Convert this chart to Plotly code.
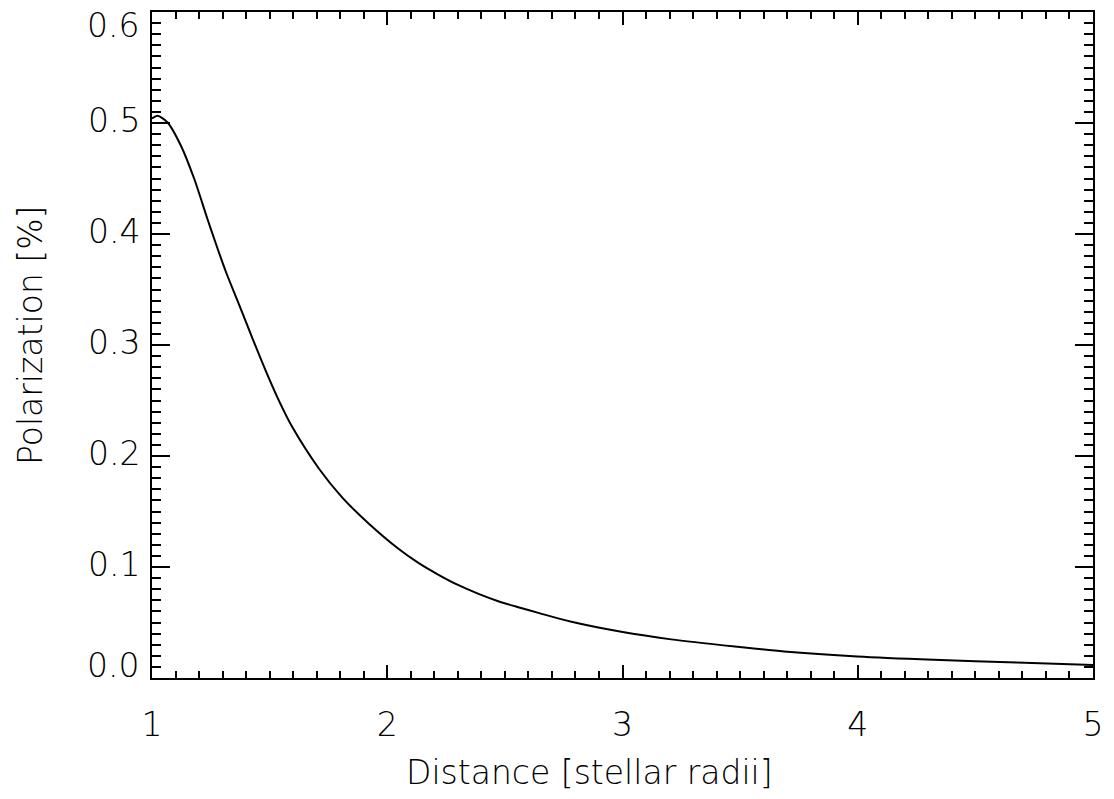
import plotly.graph_objects as go

distance = [1.0, 1.023, 1.066, 1.122, 1.179, 1.235, 1.272, 1.314, 1.371, 1.427, 1.484,
            1.547, 1.597, 1.710, 1.809, 1.922, 2.049, 2.134, 2.218, 2.303, 2.388,
            2.472, 2.557, 2.642, 2.783, 2.995, 3.207, 3.49, 3.687, 3.998, 4.323, 4.676, 5.0]
polarization = [0.504, 0.5065, 0.5005, 0.480, 0.450, 0.414, 0.391, 0.366, 0.336, 0.306, 0.2765,
                0.2465, 0.2258, 0.1885, 0.1625, 0.1390, 0.1162, 0.1035, 0.0930, 0.0836, 0.0758,
                0.0692, 0.0638, 0.0587, 0.0506, 0.0416, 0.0348, 0.0281, 0.0239, 0.0194, 0.0164, 0.0139, 0.0118]

x_ticks = [1, 2, 3, 4, 5]
x_ticklabels = ["1", "2", "3", "4", "5"]
y_ticks = [0.0, 0.1, 0.2, 0.3, 0.4, 0.5, 0.6]
y_ticklabels = ["0.0", "0.1", "0.2", "0.3", "0.4", "0.5", "0.6"]
x_title = "Distance [stellar radii]"
y_title = "Polarization [%]"

FONT = "DejaVu Sans"
FSIZE = 33
tfont = dict(family=FONT, size=FSIZE, color="black", weight=200)

fig = go.Figure()
fig.add_trace(go.Scatter(
    x=distance, y=polarization, mode="lines",
    line=dict(color="black", width=2, shape="spline", smoothing=0.8),
    showlegend=False, hoverinfo="skip"))

axis_common = dict(
    showgrid=False, zeroline=False, showline=True, linecolor="black", linewidth=2,
    mirror="allticks", ticks="inside", tickcolor="black", tickwidth=2,
    tickfont=tfont,
)

# end labels of the y axis are nudged inward (as in the original), drawn as annotations
y_text_axis = [("" if i in (0, len(y_ticks) - 1) else t) for i, t in enumerate(y_ticklabels)]

fig.update_xaxes(
    range=[1, 5], tickmode="array", tickvals=x_ticks, ticktext=x_ticklabels,
    ticklen=13, ticklabelstandoff=16,
    minor=dict(dtick=0.1, ticks="inside", ticklen=7, tickwidth=2, tickcolor="black", showgrid=False),
    **axis_common)
fig.update_yaxes(
    range=[0, 0.6], tickmode="array", tickvals=y_ticks, ticktext=y_text_axis,
    ticklen=18, ticklabelstandoff=3, ticklabelshift=-3,
    minor=dict(dtick=0.01, ticks="inside", ticklen=9, tickwidth=2, tickcolor="black", showgrid=False),
    **axis_common)

for i, shift in ((0, 13), (len(y_ticks) - 1, -13)):
    fig.add_annotation(x=0, xref="paper", xanchor="right", xshift=-11,
                       y=y_ticks[i], yref="y", yanchor="middle", yshift=shift,
                       text=y_ticklabels[i], showarrow=False, font=tfont)

# axis titles (placed as in the original, slightly off-centre)
fig.add_annotation(x=0.5, xref="paper", xanchor="center", xshift=-33,
                   y=0, yref="paper", yanchor="middle", yshift=-94,
                   text=x_title, showarrow=False, font=tfont)
fig.add_annotation(x=0, xref="paper", xanchor="center", xshift=-122,
                   y=0.5, yref="paper", yanchor="middle", yshift=9,
                   text=y_title, textangle=-90, showarrow=False, font=tfont)

fig.update_layout(
    width=1114, height=799,
    margin=dict(l=152, r=18, t=10, b=121, pad=0),
    plot_bgcolor="white", paper_bgcolor="white",
)

fig.write_html("out.html", config={"displayModeBar": False},
               post_script="document.body.style.margin='0';")
